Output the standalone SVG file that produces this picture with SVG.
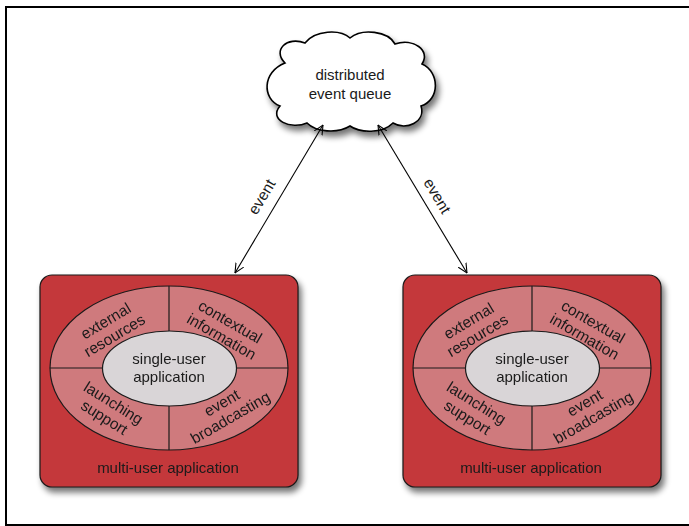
<svg xmlns="http://www.w3.org/2000/svg" width="689" height="526" viewBox="0 0 689 526">
  <defs>
    <filter id="shadow" x="-20%" y="-20%" width="150%" height="150%">
      <feGaussianBlur in="SourceAlpha" stdDeviation="3"/>
      <feOffset dx="3" dy="5" result="blur"/>
      <feComponentTransfer><feFuncA type="linear" slope="0.55"/></feComponentTransfer>
      <feMerge><feMergeNode/><feMergeNode in="SourceGraphic"/></feMerge>
    </filter>
    <marker id="open" viewBox="0 0 10 10" refX="9.5" refY="5" markerWidth="10" markerHeight="10" markerUnits="userSpaceOnUse" orient="auto-start-reverse">
      <path d="M0,0.5 L9.5,5 L0,9.5" fill="none" stroke="#000" stroke-width="1.1"/>
    </marker>
    <!-- one multi-user application block, drawn at origin of the left block -->
    <g id="app">
      <rect x="40" y="275" width="258" height="212" rx="12" ry="12" class="box"/>
      <ellipse cx="169" cy="368" rx="119" ry="82" class="ring"/>
      <line x1="169" y1="286" x2="169" y2="450" class="div"/>
      <line x1="50" y1="368" x2="288" y2="368" class="div"/>
      <ellipse cx="169.5" cy="368.5" rx="67" ry="37.5" class="core"/>
      <text class="lbl" x="169" y="364">single-user</text>
      <text class="lbl" x="169" y="382">application</text>
      <text class="lbl" x="168" y="473">multi-user application</text>
      <g transform="translate(110,328) rotate(-31)">
        <text class="seg" x="0" y="-3">external</text>
        <text class="seg" x="0" y="14">resources</text>
      </g>
      <g transform="translate(226,329) rotate(30)">
        <text class="seg" x="0" y="-3">contextual</text>
        <text class="seg" x="0" y="14">information</text>
      </g>
      <g transform="translate(109,410) rotate(32)">
        <text class="seg" x="0" y="-3">launching</text>
        <text class="seg" x="0" y="14">support</text>
      </g>
      <g transform="translate(226,410) rotate(-30)">
        <text class="seg" x="0" y="-3">event</text>
        <text class="seg" x="0" y="14">broadcasting</text>
      </g>
    </g>
  </defs>
  <style>
    text { font-family: "Liberation Sans", Arial, sans-serif; fill: #1a1a1a; }
    .lbl { font-size: 15px; text-anchor: middle; }
    .seg { font-size: 15.5px; text-anchor: middle; }
    .elbl { font-size: 15.5px; text-anchor: middle; }
    .box { fill: #c4383b; stroke: #1a1a1a; stroke-width: 1.2; }
    .ring { fill: #cf7a7d; stroke: #1a1a1a; stroke-width: 1.2; }
    .core { fill: #d9d5d7; stroke: #1a1a1a; stroke-width: 1.2; }
    .div { stroke: #1a1a1a; stroke-width: 1.2; }
    .conn { stroke: #000; stroke-width: 1.1; fill: none; marker-start: url(#open); marker-end: url(#open); }
  </style>

  <rect width="689" height="526" fill="#fff"/>
  <!-- page frame -->
  <rect x="6" y="7" width="692" height="518" fill="none" stroke="#000" stroke-width="2"/>

  <!-- distributed event queue -->
  <g id="queue">
    <path filter="url(#shadow)" fill="#fff" stroke="#000" stroke-width="1.6"
      d="M285,63 C272,50 287,36 305,43 C315,30 340,29 350,38 C362,28 388,31 395,44 C413,38 431,50 422,64
         C440,72 440,100 421,106 C426,122 406,131 393,123 C382,134 360,133 350,126 C337,134 316,132 307,123
         C291,130 268,120 280,106 C262,99 262,72 285,63 Z"/>
    <text class="lbl" x="350" y="80">distributed</text>
    <text class="lbl" x="350" y="99">event queue</text>
  </g>

  <!-- left multi-user application -->
  <g id="app-left" filter="url(#shadow)">
    <use href="#app"/>
  </g>

  <!-- right multi-user application -->
  <g id="app-right" filter="url(#shadow)">
    <use href="#app" transform="translate(363,0)"/>
  </g>

  <!-- event connectors -->
  <g id="connectors">
    <line class="conn" x1="323" y1="125" x2="235" y2="273"/>
    <line class="conn" x1="378" y1="125" x2="467" y2="273"/>
    <text class="elbl" transform="translate(262,197) rotate(-59)" y="5">event</text>
    <text class="elbl" transform="translate(437,196) rotate(59)" y="5">event</text>
  </g>
</svg>
